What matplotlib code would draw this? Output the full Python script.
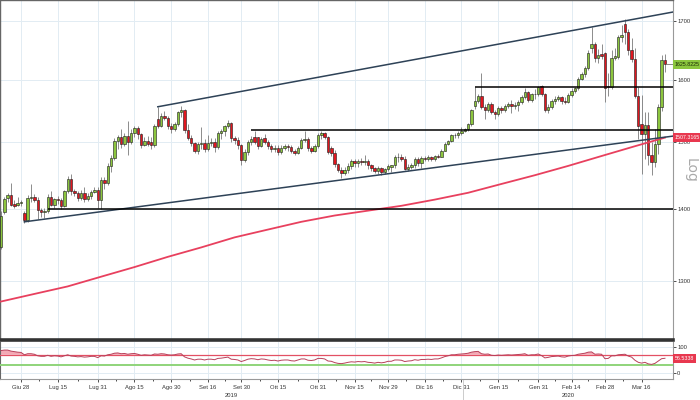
import numpy as np
import pandas as pd
import matplotlib
matplotlib.use("Agg")
import matplotlib.pyplot as plt
from matplotlib.ticker import FixedLocator, NullLocator, FuncFormatter
from matplotlib.transforms import blended_transform_factory
from matplotlib.lines import Line2D

plt.rcParams['font.family'] = ['Liberation Sans', 'DejaVu Sans']

# --- DATI: oro spot, barre giornaliere (solo giorni feriali) ---
START, END = "2019-06-20", "2020-03-25"

opens = [
    1347, 1396, 1416, 1421, 1408, 1406, 1409, 1395, 1384, 1417,
    1418, 1414, 1399, 1396, 1397, 1418, 1406, 1415, 1413, 1405,
    1426, 1445, 1426, 1424, 1416, 1424, 1415, 1419, 1425, 1428,
    1413, 1443, 1438, 1464, 1476, 1502, 1508, 1497, 1510, 1500,
    1515, 1523, 1513, 1496, 1502, 1500, 1496, 1536, 1526, 1542,
    1538, 1526, 1520, 1529, 1547, 1551, 1519, 1507, 1499, 1487,
    1497, 1499, 1489, 1499, 1501, 1493, 1515, 1518, 1525, 1530,
    1506, 1504, 1496, 1473, 1485, 1500, 1508, 1508, 1495, 1507,
    1501, 1494, 1489, 1492, 1485, 1492, 1494, 1493, 1487, 1484,
    1492, 1504, 1505, 1491, 1487, 1495, 1512, 1514, 1508, 1491,
    1484, 1467, 1458, 1454, 1458, 1464, 1471, 1468, 1472, 1470,
    1471, 1465, 1461, 1456, 1461, 1455, 1459, 1462, 1465, 1477,
    1478, 1475, 1460, 1463, 1465, 1475, 1468, 1476, 1475, 1477,
    1475, 1479, 1478, 1487, 1498, 1502, 1511, 1511, 1515, 1518,
    1520, 1529, 1558, 1566, 1574, 1555, 1551, 1561, 1547, 1545,
    1554, 1551, 1557, 1560, 1557, 1559, 1563, 1571, 1580, 1567,
    1576, 1577, 1590, 1577, 1551, 1556, 1565, 1569, 1571, 1566,
    1564, 1575, 1582, 1586, 1601, 1610, 1619, 1653, 1660, 1636,
    1643, 1644, 1590, 1588, 1637, 1638, 1672, 1695, 1681, 1650,
    1634, 1573, 1528, 1513, 1527, 1480, 1470, 1497, 1555, 1633,
]
highs = [
    1397, 1418, 1424, 1439, 1414, 1418, 1414, 1398, 1420, 1437,
    1422, 1418, 1402, 1402, 1422, 1426, 1416, 1419, 1416, 1428,
    1449, 1452, 1430, 1426, 1428, 1433, 1424, 1428, 1432, 1432,
    1447, 1447, 1468, 1480, 1507, 1511, 1520, 1515, 1534, 1520,
    1525, 1526, 1514, 1509, 1510, 1508, 1528, 1556, 1546, 1550,
    1541, 1530, 1532, 1550, 1557, 1553, 1528, 1511, 1500, 1500,
    1524, 1505, 1512, 1506, 1507, 1518, 1520, 1527, 1535, 1532,
    1510, 1508, 1498, 1490, 1503, 1510, 1517, 1509, 1509, 1513,
    1503, 1497, 1496, 1496, 1496, 1498, 1497, 1496, 1490, 1495,
    1506, 1518, 1508, 1495, 1497, 1514, 1517, 1516, 1510, 1495,
    1488, 1469, 1462, 1462, 1468, 1474, 1474, 1475, 1476, 1481,
    1474, 1467, 1463, 1464, 1463, 1461, 1467, 1466, 1480, 1484,
    1482, 1479, 1467, 1469, 1477, 1478, 1479, 1479, 1480, 1479,
    1481, 1482, 1489, 1500, 1504, 1513, 1515, 1517, 1524, 1522,
    1530, 1553, 1588, 1576, 1611, 1560, 1563, 1563, 1551, 1558,
    1557, 1561, 1564, 1567, 1563, 1567, 1575, 1587, 1582, 1579,
    1584, 1590, 1592, 1578, 1560, 1568, 1574, 1575, 1573, 1571,
    1578, 1586, 1588, 1604, 1612, 1623, 1649, 1690, 1663, 1651,
    1660, 1646, 1611, 1649, 1654, 1676, 1692, 1703, 1686, 1671,
    1654, 1588, 1575, 1547, 1548, 1501, 1520, 1560, 1642, 1643,
]
lows = [
    1344, 1393, 1411, 1405, 1402, 1404, 1404, 1381, 1382, 1411,
    1411, 1386, 1389, 1388, 1394, 1404, 1402, 1407, 1401, 1403,
    1423, 1420, 1419, 1412, 1413, 1411, 1412, 1415, 1423, 1402,
    1400, 1430, 1436, 1455, 1473, 1489, 1492, 1495, 1480, 1498,
    1508, 1505, 1492, 1494, 1495, 1490, 1493, 1522, 1524, 1535,
    1520, 1515, 1517, 1525, 1540, 1515, 1503, 1495, 1484, 1482,
    1490, 1485, 1487, 1495, 1485, 1490, 1505, 1510, 1522, 1500,
    1498, 1490, 1466, 1470, 1480, 1496, 1497, 1490, 1493, 1498,
    1490, 1485, 1485, 1480, 1482, 1488, 1487, 1484, 1480, 1482,
    1490, 1500, 1487, 1484, 1485, 1492, 1505, 1505, 1482, 1479,
    1463, 1455, 1446, 1450, 1454, 1460, 1462, 1463, 1466, 1466,
    1460, 1457, 1453, 1452, 1451, 1452, 1456, 1455, 1461, 1470,
    1471, 1458, 1457, 1459, 1461, 1464, 1461, 1471, 1472, 1472,
    1472, 1476, 1477, 1486, 1496, 1500, 1507, 1507, 1512, 1516,
    1517, 1526, 1552, 1562, 1553, 1537, 1547, 1545, 1536, 1542,
    1546, 1548, 1554, 1546, 1553, 1550, 1560, 1569, 1563, 1564,
    1568, 1574, 1573, 1548, 1546, 1553, 1561, 1566, 1561, 1561,
    1562, 1572, 1579, 1583, 1599, 1604, 1616, 1645, 1630, 1628,
    1635, 1563, 1573, 1585, 1632, 1635, 1663, 1660, 1641, 1630,
    1570, 1505, 1452, 1475, 1466, 1451, 1463, 1482, 1550, 1613,
]
closes = [
    1390, 1415, 1421, 1406, 1404, 1409, 1409, 1384, 1417, 1418,
    1414, 1399, 1396, 1397, 1418, 1406, 1415, 1413, 1405, 1426,
    1445, 1426, 1424, 1416, 1424, 1415, 1419, 1425, 1428, 1413,
    1443, 1438, 1464, 1476, 1502, 1508, 1497, 1510, 1500, 1515,
    1523, 1513, 1496, 1502, 1498, 1496, 1526, 1526, 1542, 1538,
    1526, 1520, 1529, 1547, 1551, 1519, 1507, 1499, 1487, 1497,
    1499, 1489, 1499, 1501, 1493, 1515, 1518, 1525, 1530, 1506,
    1504, 1496, 1473, 1485, 1500, 1505, 1500, 1495, 1505, 1501,
    1494, 1489, 1492, 1485, 1492, 1494, 1493, 1487, 1484, 1492,
    1504, 1505, 1491, 1487, 1495, 1512, 1514, 1508, 1485, 1484,
    1467, 1458, 1454, 1458, 1464, 1471, 1468, 1471, 1470, 1471,
    1465, 1461, 1456, 1461, 1455, 1459, 1464, 1465, 1477, 1478,
    1475, 1460, 1463, 1465, 1475, 1468, 1476, 1475, 1477, 1475,
    1479, 1478, 1487, 1498, 1502, 1511, 1511, 1515, 1518, 1520,
    1529, 1551, 1566, 1574, 1555, 1551, 1561, 1547, 1545, 1554,
    1551, 1557, 1560, 1557, 1559, 1563, 1571, 1580, 1567, 1576,
    1577, 1588, 1577, 1551, 1556, 1565, 1569, 1571, 1566, 1564,
    1575, 1582, 1586, 1601, 1610, 1619, 1644, 1660, 1636, 1641,
    1640, 1586, 1588, 1637, 1640, 1672, 1675, 1681, 1650, 1634,
    1573, 1525, 1513, 1527, 1480, 1470, 1497, 1555, 1633, 1625.8225,
]

# RSI(14), una lettura per barra
rsi14 = [
    86, 88, 88, 84, 82, 80, 79, 70, 74, 74,
    72, 66, 64, 64, 68, 64, 66, 65, 62, 66,
    70, 65, 64, 62, 63, 61, 62, 64, 64, 59,
    66, 65, 70, 72, 76, 77, 74, 75, 72, 74,
    75, 72, 68, 70, 69, 68, 73, 72, 74, 73,
    70, 69, 70, 73, 74, 62, 57, 54, 50, 53,
    53, 50, 53, 53, 51, 56, 57, 59, 61, 53,
    52, 50, 44, 48, 53, 55, 54, 51, 54, 53,
    50, 48, 49, 46, 49, 50, 50, 47, 46, 50,
    54, 54, 49, 48, 50, 56, 56, 54, 46, 45,
    40, 37, 36, 38, 41, 43, 42, 44, 43, 44,
    41, 40, 38, 41, 39, 41, 45, 45, 50, 50,
    49, 44, 46, 47, 51, 49, 52, 52, 53, 52,
    54, 54, 58, 63, 66, 70, 70, 72, 73, 74,
    76, 80, 82, 83, 74, 72, 73, 68, 67, 69,
    68, 69, 70, 69, 70, 71, 72, 74, 68, 70,
    70, 73, 67, 58, 60, 63, 64, 65, 62, 61,
    65, 67, 68, 72, 74, 76, 80, 81, 72, 73,
    72, 55, 56, 66, 66, 70, 71, 72, 65, 61,
    49, 41, 38, 41, 35, 33, 37, 46, 55, 56.5338,
]

# media mobile 200 periodi, letta ogni 10 barre (+ ultima barra)
sma200_bars = [0, 10, 20, 30, 40, 50, 60, 70, 80, 90, 100,
               110, 120, 130, 140, 150, 160, 170, 180, 190, 199]
sma200 = [1273, 1283, 1293, 1306, 1319, 1333, 1346, 1360, 1371, 1382, 1391,
          1398, 1405, 1414, 1424, 1437, 1450, 1464, 1479, 1494, 1507.3165]

# linee di tendenza (canale) e livelli orizzontali
channel_top = [("2019-08-26", 1556), ("2020-03-25", 1713)]
channel_bottom = [("2019-07-01", 1382), ("2020-03-25", 1508)]
levels = [("2019-07-10", 1400), ("2019-10-03", 1519), ("2020-01-06", 1588)]

tick_dates = ["2019-06-28", "2019-07-15", "2019-07-31", "2019-08-15", "2019-08-30",
              "2019-09-16", "2019-09-30", "2019-10-15", "2019-10-31", "2019-11-15",
              "2019-11-29", "2019-12-16", "2019-12-31", "2020-01-15", "2020-01-31",
              "2020-02-14", "2020-02-28", "2020-03-16"]
tick_labels = ["Giu 28", "Lug 15", "Lug 31", "Ago 15", "Ago 30", "Set 16", "Set 30",
               "Ott 15", "Ott 31", "Nov 15", "Nov 29", "Dic 16", "Dic 31", "Gen 15",
               "Gen 31", "Feb 14", "Feb 28", "Mar 16"]
price_ticks = [1300, 1400, 1500, 1600, 1700]

# --- COLORI ---
GREEN = '#8cc63e'
RED = '#e0161f'
MA_COL = '#e8405e'
TREND_COL = '#2e4257'
GRID_COL = '#e2ecf3'
SMALL = 4.2
TAG = 3.8

dates = pd.bdate_range(START, END)
x = np.arange(len(dates))
XMIN, XMAX = -0.3, 201.4


def pos(d):
    return dates.get_loc(pd.Timestamp(d))


fig = plt.figure(figsize=(7, 4), dpi=100)
ax = fig.add_axes([0, 0.15, 0.9614, 0.85])
ax_rsi = fig.add_axes([0, 0.0525, 0.9614, 0.0925], sharex=ax)

# --- candele ---
o, h, l, c = (np.array(v, dtype=float) for v in (opens, highs, lows, closes))
up = c >= o
ax.vlines(x, l, h, color='#7a7a7a', lw=0.6, zorder=2)
ax.bar(x, np.maximum(np.abs(c - o), 0.8), bottom=np.minimum(o, c), width=0.72,
       color=np.where(up, GREEN, RED), edgecolor='#1a1a1a', linewidth=0.4, zorder=3)

# media mobile
ax.plot(sma200_bars, sma200, color=MA_COL, lw=1.3, zorder=4)


# canale (retta in scala log, prolungata fino al bordo destro)
def channel(pts):
    (d0, p0), (d1, p1) = pts
    x0, x1 = pos(d0), pos(d1)
    slope = (np.log(p1) - np.log(p0)) / (x1 - x0)
    return [x0, XMAX], [p0, np.exp(np.log(p0) + slope * (XMAX - x0))]


for pts in (channel_top, channel_bottom):
    xs, ys = channel(pts)
    ax.plot(xs, ys, color=TREND_COL, lw=1.1, zorder=5)

for d, p in levels:
    ax.hlines(p, pos(d), XMAX, color='black', lw=1.1, zorder=5)

# linea ultimo prezzo
ax.hlines(closes[-1], x[-1] + 0.3, XMAX, color='#888888', lw=0.7, zorder=5)

ax.set_yscale('log')
ax.set_ylim(1223.5, 1737)
ax.set_xlim(XMIN, XMAX)
ax.yaxis.set_major_locator(FixedLocator(price_ticks))
ax.yaxis.set_minor_locator(NullLocator())
ax.yaxis.set_major_formatter(FuncFormatter(lambda v, _: f"{v:.0f}"))
ax.yaxis.tick_right()
ax.tick_params(axis='y', direction='out', length=2.5, width=0.6, pad=1,
               labelsize=SMALL, colors='#333333')

tick_pos = [pos(d) for d in tick_dates]
minor_pos = [(a + b) / 2 for a, b in zip(tick_pos[:-1], tick_pos[1:])]
for a in (ax, ax_rsi):
    a.xaxis.set_major_locator(FixedLocator(tick_pos))
    a.xaxis.set_minor_locator(FixedLocator(minor_pos))
    a.grid(True, which='major', color=GRID_COL, lw=0.7, zorder=0)
    a.set_axisbelow(True)
ax.tick_params(axis='x', which='both', bottom=False, labelbottom=False)

for side in ('left', 'top'):
    ax.spines[side].set_color('#666666')
    ax.spines[side].set_linewidth(1.0)
ax.spines['right'].set_color('#999999')
ax.spines['right'].set_linewidth(0.8)
ax.spines['bottom'].set_color('#333333')
ax.spines['bottom'].set_linewidth(2.6)

# etichette a destra
box = dict(boxstyle='square,pad=0.35', ec='none')
tr = blended_transform_factory(ax.transAxes, ax.transData)
ax.text(1.003, closes[-1], f"{closes[-1]:.4f}", transform=tr, ha='left', va='center',
        fontsize=TAG, color='#1c2b05', clip_on=False, zorder=10,
        bbox=dict(box, fc=GREEN))
ax.text(1.003, sma200[-1], f"{sma200[-1]:.4f}", transform=tr, ha='left', va='center',
        fontsize=TAG, color='white', clip_on=False, zorder=10,
        bbox=dict(box, fc='#e8384f'))
fig.text(0.986, 0.575, "Log", rotation=270, ha='center', va='center',
         fontsize=10, color='#aaaaaa', family='DejaVu Sans')

# --- RSI ---
r = np.array(rsi14, dtype=float)
ax_rsi.fill_between(x, r, 70, where=r > 70, interpolate=True, color='#f3a9b5', lw=0, zorder=2)
ax_rsi.axhline(70, color='#e35064', lw=0.9, zorder=3)
ax_rsi.axhline(30, color='#8fd47a', lw=1.4, zorder=3)
ax_rsi.plot(x, r, color='#b8405a', lw=0.7, zorder=4)
ax_rsi.set_ylim(-23, 119)
ax_rsi.set_yticks([0, 100])
ax_rsi.yaxis.tick_right()
ax_rsi.tick_params(axis='y', direction='out', length=2, width=0.6, pad=1,
                   labelsize=SMALL, colors='#333333')
ax_rsi.set_xticklabels(tick_labels)
ax_rsi.tick_params(axis='x', which='major', direction='out', length=2, width=0.6,
                   pad=2, labelsize=SMALL, colors='#333333')
ax_rsi.tick_params(axis='x', which='minor', direction='out', length=1.5, width=0.5)
ax_rsi.spines['top'].set_visible(False)
ax_rsi.spines['left'].set_color('#666666')
for side in ('right', 'bottom'):
    ax_rsi.spines[side].set_color('#999999')
    ax_rsi.spines[side].set_linewidth(0.8)

tr_r = blended_transform_factory(ax_rsi.transAxes, ax_rsi.transData)
ax_rsi.text(1.003, rsi14[-1], f"{rsi14[-1]:.4f}", transform=tr_r, ha='left', va='center',
            fontsize=TAG, color='white', clip_on=False, zorder=10,
            bbox=dict(box, fc='#e8384f'))

# anni e separatore
year_split = pos("2019-12-31") + 0.5
tr_y = blended_transform_factory(ax_rsi.transData, fig.transFigure)
fig.add_artist(Line2D([year_split, year_split], [0, 0.05], transform=tr_y,
                      color='#cccccc', lw=0.7))
fig.text((XMIN + year_split) / 2, 0.012, "2019", transform=tr_y, ha='center',
         va='center', fontsize=SMALL, color='#333333')
fig.text((year_split + XMAX) / 2, 0.012, "2020", transform=tr_y, ha='center',
         va='center', fontsize=SMALL, color='#333333')

fig.savefig("out.png", dpi=100, facecolor='white')
